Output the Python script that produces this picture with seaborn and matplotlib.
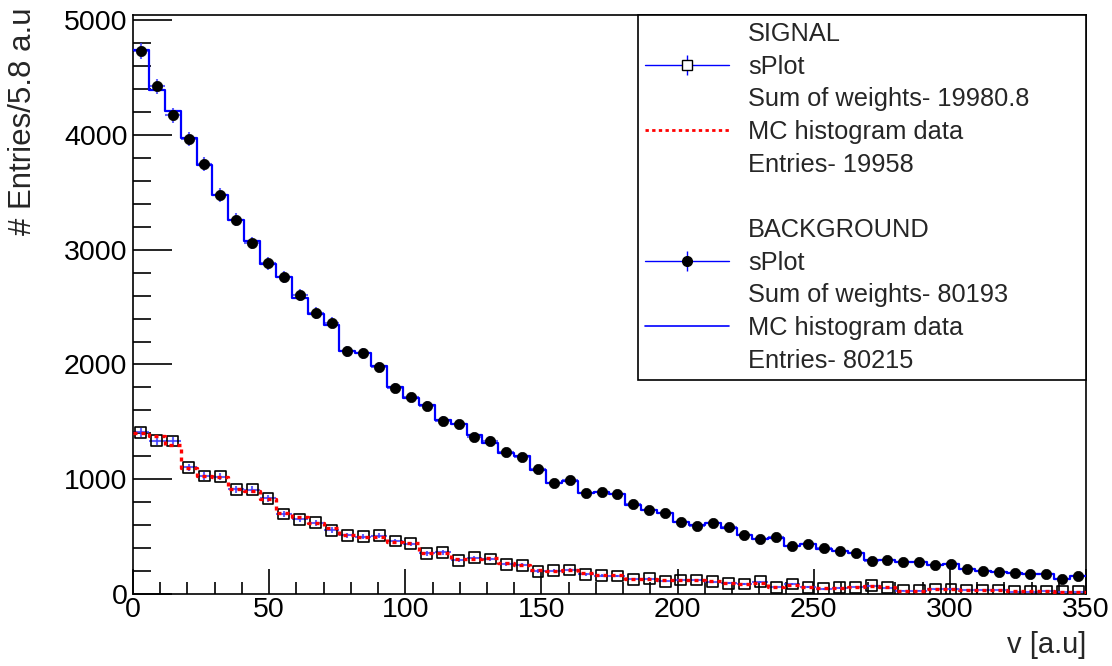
import numpy as np
import pandas as pd
import matplotlib
matplotlib.use("Agg")
import matplotlib.pyplot as plt
import seaborn as sns
from matplotlib.lines import Line2D
from matplotlib.ticker import MultipleLocator

# Du lieu doc tu hinh (60 bin, 0 - 350)
x_min, x_max, n_bins = 0, 350, 60

bkg_splot = [4733, 4425, 4170, 3963, 3743, 3476, 3261, 3057, 2880, 2761,
             2605, 2448, 2364, 2114, 2097, 1975, 1797, 1713, 1641, 1510,
             1481, 1370, 1336, 1234, 1196, 1086, 964, 993, 882, 889,
             872, 781, 735, 706, 624, 592, 616, 587, 511, 482,
             494, 418, 436, 398, 375, 354, 287, 296, 279, 279,
             253, 264, 215, 198, 189, 180, 174, 174, 128, 157]

bkg_mc = [4739, 4390, 4205, 3970, 3740, 3476, 3258, 3072, 2878, 2758,
          2575, 2440, 2343, 2114, 2097, 1989, 1800, 1707, 1646, 1516,
          1478, 1385, 1318, 1225, 1202, 1080, 967, 987, 879, 891,
          871, 775, 732, 703, 624, 601, 616, 572, 514, 479,
          488, 418, 436, 389, 375, 354, 296, 296, 276, 276,
          253, 261, 215, 201, 195, 180, 174, 174, 131, 157]

sig_splot = [1408, 1336, 1333, 1103, 1028, 1022, 912, 909, 833, 697,
             650, 621, 557, 511, 499, 508, 462, 436, 354, 363,
             296, 316, 305, 261, 250, 200, 203, 209, 174, 159,
             157, 128, 134, 113, 122, 122, 107, 93, 87, 107,
             58, 87, 58, 46, 55, 58, 72, 55, 29, 29,
             41, 41, 35, 35, 35, 20, 20, 25, 20, 20]

sig_mc = [1406, 1376, 1298, 1095, 1032, 1016, 917, 897, 830, 703,
          667, 621, 572, 514, 499, 500, 456, 442, 354, 360,
          302, 305, 311, 267, 252, 209, 200, 209, 180, 165,
          165, 130, 134, 118, 122, 120, 110, 95, 90, 100,
          65, 80, 62, 50, 55, 62, 68, 60, 30, 30,
          40, 42, 36, 34, 33, 22, 22, 24, 20, 20]

legend_labels = ["SIGNAL", "sPlot", "Sum of weights- 19980.8", "MC histogram data",
                 "Entries- 19958", " ", "BACKGROUND", "sPlot",
                 "Sum of weights- 80193", "MC histogram data", "Entries- 80215"]

edges = np.linspace(x_min, x_max, n_bins + 1)
centers = 0.5 * (edges[:-1] + edges[1:])
half_w = 0.5 * (edges[1] - edges[0])

df = pd.DataFrame({"v": centers, "bkg_splot": bkg_splot, "bkg_mc": bkg_mc,
                   "sig_splot": sig_splot, "sig_mc": sig_mc})

sns.set_style("ticks")
plt.rcParams["font.family"] = ["Liberation Sans", "DejaVu Sans"]

fig = plt.figure(figsize=(11.12, 6.66), dpi=100)
ax = fig.add_axes([0.1196, 0.1081, 0.857, 0.8694])

# Background: sPlot (cham den) + MC (duong xanh)
ax.errorbar(df["v"], df["bkg_splot"], xerr=half_w, yerr=np.sqrt(df["bkg_splot"]),
            fmt="none", ecolor="#3a3aff", elinewidth=1.5, alpha=0.8, zorder=2)
sns.histplot(data=df, x="v", weights="bkg_mc", bins=n_bins, binrange=(x_min, x_max),
             element="step", fill=False, color="blue", linewidth=1.6, ax=ax, zorder=3)
sns.scatterplot(data=df, x="v", y="bkg_splot", marker="o", color="black", s=55,
                edgecolor="black", linewidth=0.5, ax=ax, zorder=4)

# Signal: sPlot (o vuong rong) + MC (duong cham do)
ax.errorbar(df["v"], df["sig_splot"], xerr=half_w, yerr=np.sqrt(df["sig_splot"]),
            fmt="none", ecolor="#3a3aff", elinewidth=1.5, alpha=0.8, zorder=2)
sns.scatterplot(data=df, x="v", y="sig_splot", marker="s", s=62, facecolor="none",
                edgecolor="black", linewidth=1.2, ax=ax, zorder=4)
sns.histplot(data=df, x="v", weights="sig_mc", bins=n_bins, binrange=(x_min, x_max),
             element="step", fill=False, color="red", linewidth=2.4,
             linestyle=(0, (1.2, 1.2)), ax=ax, zorder=5)

ax.set_xlim(x_min, x_max)
ax.set_ylim(0, 5045)
ax.xaxis.set_major_locator(MultipleLocator(50))
ax.xaxis.set_minor_locator(MultipleLocator(10))
ax.yaxis.set_major_locator(MultipleLocator(1000))
ax.yaxis.set_minor_locator(MultipleLocator(200))
ax.tick_params(axis="both", which="both", direction="in", colors="black",
               labelsize=20.5)
ax.tick_params(axis="y", which="major", length=28, width=1.2, pad=4)
ax.tick_params(axis="y", which="minor", length=13, width=1.2)
ax.tick_params(axis="x", which="major", length=18, width=1.2, pad=2)
ax.tick_params(axis="x", which="minor", length=9, width=1.2)
for s in ax.spines.values():
    s.set_linewidth(1.2)
    s.set_color("black")

ax.set_xlabel("v [a.u]", fontsize=21, loc="right", labelpad=6)
ax.set_ylabel("# Entries/5.8 a.u", fontsize=22.5, loc="top")
ax.yaxis.set_label_coords(-0.1, 1.013)

# Chu giai kieu ROOT
blank = Line2D([], [], linestyle="none", marker="none")
sig_handle = (Line2D([], [], color="blue", lw=1, marker="|", ms=14, mew=1),
              Line2D([], [], ls="none", marker="s", ms=7, mfc="white", mec="black", mew=1))
bkg_handle = (Line2D([], [], color="blue", lw=1, marker="|", ms=14, mew=1),
              Line2D([], [], ls="none", marker="o", ms=7, mfc="black", mec="black"))
red_handle = Line2D([], [], color="red", lw=2, linestyle=(0, (1.2, 1.2)))
blue_handle = Line2D([], [], color="blue", lw=1.2)
handles = [blank, sig_handle, blank, red_handle, blank, blank,
           blank, bkg_handle, blank, blue_handle, blank]
leg = ax.legend(handles, legend_labels, loc="upper left", mode="expand",
                bbox_to_anchor=(0.53, 0.0, 0.47, 1.0), borderaxespad=0,
                fontsize=18.3, handlelength=3.3, handletextpad=0.75,
                labelspacing=0.34, borderpad=0.28, numpoints=1,
                fancybox=False, framealpha=1, edgecolor="black")
leg.get_frame().set_linewidth(1.2)

fig.savefig("out.png", dpi=100)
